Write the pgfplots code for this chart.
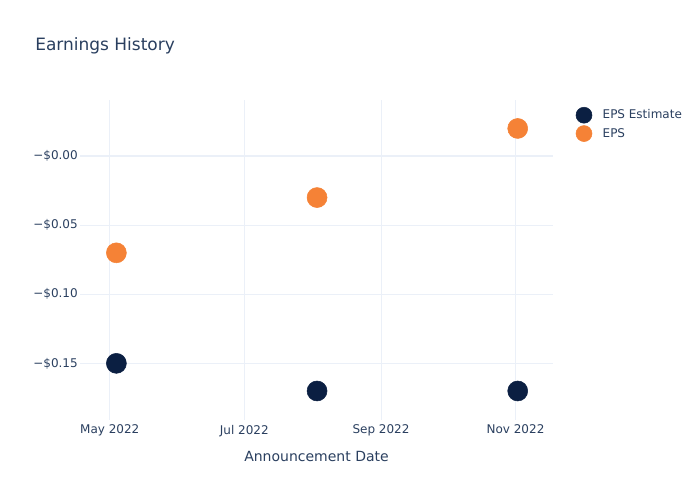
\documentclass[border=0pt]{standalone}
\usepackage{fontspec}
\setmainfont{DejaVu Sans}
\usepackage{pgfplots}
\pgfplotsset{compat=1.18}
\definecolor{txt}{HTML}{2A3F5F}
\definecolor{gridc}{HTML}{EBF0F8}
\definecolor{navy}{HTML}{0B1F42}
\definecolor{orng}{HTML}{F58236}
\begin{document}
\begin{tikzpicture}
\useasboundingbox (0,0) rectangle (525pt,375pt);
\node[anchor=west, text=txt, font=\fontsize{12.75}{15}\selectfont, inner sep=0pt] at (26.25pt,340.5pt) {Earnings History};
\begin{axis}[
 at={(60pt,60pt)}, anchor=south west,
 scale only axis, width=354.75pt, height=240pt,
 xmin=-13.5, xmax=201, ymin=-0.191, ymax=0.0406,
 axis line style={draw=none},
 tick style={draw=none}, major tick length=0pt,
 grid=major, grid style={color=gridc, line width=0.75pt},
 xtick={0,61,123,184},
 xticklabels={May 2022,Jul 2022,Sep 2022,Nov 2022},
 ytick={-0.15,-0.1,-0.05,0},
 yticklabels={−\$0.15,−\$0.10,−\$0.05,−\$0.00},
 extra y ticks={0}, extra y tick labels={},
 extra y tick style={grid style={color=gridc, line width=1.5pt}},
 ticklabel style={font=\fontsize{9}{11}\selectfont, text=txt},
 yticklabel style={inner sep=0pt, anchor=east, xshift=-1.5pt},
 xticklabel style={inner sep=0pt, anchor=north, yshift=-3.5pt},
 xlabel={Announcement Date},
 xlabel style={font=\fontsize{10.5}{12}\selectfont, text=txt, at={(axis description cs:0.5,0)}, anchor=center, yshift=-27.5pt},
 legend style={at={(1,1)}, anchor=north west, xshift=17.25pt, yshift=-5.25pt, draw=none, fill=none, inner sep=0pt, outer sep=0pt,
   font=\fontsize{9}{11}\selectfont, text=txt, row sep=1.5pt, column sep=6pt},
 legend cell align=left,
 legend image code/.code={\draw[#1, mark size=6pt] plot coordinates {(0pt,0pt)};},
 clip=false,
]
\addplot[only marks, mark=*, mark size=7.5pt, color=navy, mark options={draw=none, fill=navy}]
 coordinates {(3,-0.15) (94,-0.17) (185,-0.17)};
\addlegendentry{EPS Estimate}
\addplot[only marks, mark=*, mark size=7.5pt, color=orng, mark options={draw=none, fill=orng}]
 coordinates {(3,-0.07) (94,-0.03) (185,0.02)};
\addlegendentry{EPS}
\end{axis}
\end{tikzpicture}
\end{document}
